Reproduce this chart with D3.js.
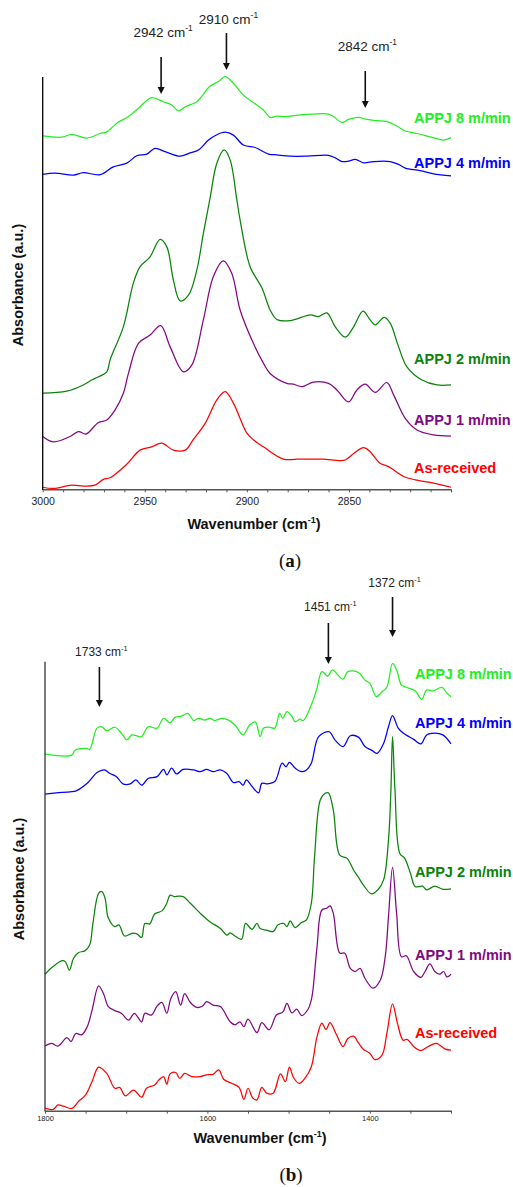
<!DOCTYPE html>
<html>
<head>
<meta charset="utf-8">
<script src="https://cdn.jsdelivr.net/npm/d3@7"></script>
<style>
  html, body { margin: 0; padding: 0; background: #fff; }
  svg { display: block; }
</style>
</head>
<body>
<svg id="chart" width="513" height="1187"></svg>
<script>
// ---------- C–H stretching region (panel a): [wavenumber cm-1, absorbance a.u.] ----------
const chAsReceived = [[3000,0.5],[2994.8,0.2],[2985.8,1.0],[2980.1,0.8],[2974.4,1.0],[2970.3,2.4],[2967,2.8],[2958.8,6.1],[2952.3,9.5],[2946.6,10.3],[2941.7,11.2],[2936,9.5],[2930.2,9.5],[2926.2,12.1],[2920.4,16.0],[2914.7,21.7],[2910.6,23.7],[2906.6,20.9],[2900,13.6],[2896.8,12.0],[2891.9,10.3],[2882.1,7.3],[2875.5,7.3],[2862.5,7.3],[2857.6,7.1],[2851.8,7.1],[2847.7,8.7],[2842.8,10.1],[2839.6,9.1],[2834.7,6.3],[2830.6,5.5],[2823.2,3.1],[2817.5,2.3],[2808.5,1.5],[2800,0.5]];
const chAppj1 = [[3000,12.8],[2994.8,11.5],[2986.6,12.8],[2982.5,14.0],[2978.8,13.4],[2972.7,16.2],[2968.6,16.8],[2964.6,19.2],[2960.5,23.3],[2958,28.1],[2953.1,35.4],[2947.4,37.4],[2942.2,39.7],[2937.6,34.6],[2931.1,28.5],[2927,30.1],[2921.3,41.1],[2916.4,51.6],[2911.5,55.4],[2907.4,52.4],[2903.3,43.5],[2896.8,35.4],[2891.9,30.6],[2888.6,28.1],[2880.4,25.7],[2877.2,25.5],[2873,24.9],[2867.4,26.0],[2860,25.7],[2855.9,24.1],[2850.2,21.2],[2846.1,24.1],[2842,25.5],[2837.1,23.5],[2831.4,25.9],[2828.1,22.9],[2822.4,17.2],[2816.7,14.4],[2808.5,13.2],[2800,12.9]];
const chAppj2 = [[3000,23.3],[2988.2,23.8],[2980.1,25.3],[2976,26.5],[2972.7,27.3],[2968.6,28.5],[2967,31.4],[2960.5,39.4],[2955.6,50.0],[2952.3,54.0],[2947.4,56.4],[2942.5,60.6],[2939.2,58.8],[2936,50.8],[2932.7,45.7],[2928.6,47.1],[2924.5,53.2],[2921.3,62.1],[2918,70.7],[2914.7,79.1],[2911.1,82.3],[2908.2,79.9],[2904.9,70.2],[2903.3,65.3],[2898.4,54.0],[2892.6,48.8],[2888.6,43.5],[2885.3,41.2],[2878.8,40.9],[2868.9,42.3],[2864.9,41.9],[2860.8,42.8],[2856.7,39.4],[2851.8,36.9],[2847.7,39.4],[2843.1,43.2],[2839.6,41.1],[2837.1,39.9],[2832.7,41.7],[2829.8,40.3],[2825.7,34.6],[2821.6,29.7],[2814.2,26.5],[2806.9,25.3],[2800,25.3]];
const chAppj4 = [[3000,76.4],[2994,76.7],[2985,76.2],[2980.1,76.8],[2971.9,76.3],[2965.4,78.2],[2958.8,79.1],[2953.9,80.9],[2949,81.3],[2945,82.7],[2940,81.9],[2932.7,80.8],[2927.8,81.6],[2923.7,82.3],[2918.8,84.7],[2914.7,86.0],[2910.6,86.6],[2906.6,85.9],[2901.7,83.5],[2895.9,82.9],[2893.5,82.3],[2889.4,81.3],[2885.3,81.1],[2878.8,80.8],[2870.6,80.8],[2860,81.0],[2856.7,80.4],[2853.4,79.5],[2850.2,79.6],[2846.9,80.0],[2842.8,79.2],[2837.9,79.5],[2829.8,79.5],[2825.7,78.8],[2822.4,77.9],[2815.1,77.3],[2808.5,76.5],[2800,76.0]];
const chAppj8 = [[3000,85.7],[2990.7,85.4],[2985.8,86.1],[2978.4,85.2],[2971.9,86.3],[2968.6,86.7],[2963.7,88.8],[2958,90.4],[2952.3,92.8],[2946.6,95.0],[2940.9,94.0],[2936.8,93.2],[2933.5,91.8],[2930.2,92.8],[2924.5,94.0],[2921.3,95.8],[2918,97.8],[2913.9,98.9],[2910.6,100.1],[2906.6,98.5],[2901.7,95.6],[2895.1,93.2],[2891.9,92.0],[2888.6,90.2],[2885.3,90.5],[2880.4,90.4],[2873.9,90.8],[2867.4,91.0],[2860,91.0],[2857.6,90.4],[2853.4,89.0],[2850.2,89.7],[2845.3,90.2],[2841.2,89.7],[2836.3,89.4],[2831.4,89.2],[2826.5,88.1],[2822.4,86.9],[2816.7,86.3],[2810.2,85.5],[2803.6,84.7],[2800,85.3]];

// ---------- fingerprint region (panel b) ----------
const fpAsReceived = [[1800,0.5],[1790,0.3],[1784,1.3],[1777,1.0],[1767,0.5],[1759,2.0],[1750,3.5],[1742,6.5],[1734,9.7],[1724,8.3],[1714,5.0],[1708,5.2],[1701,3.3],[1691,4.6],[1681,3.0],[1675,5.0],[1665,5.7],[1660,6.8],[1654,7.6],[1650,5.9],[1646,8.2],[1639,8.5],[1634,7.2],[1628,8.3],[1619,7.6],[1609,7.6],[1601,8.0],[1593,8.1],[1586,9.1],[1580,7.0],[1570,6.1],[1561,5.2],[1555,2.5],[1550,5.0],[1544,2.8],[1539,2.4],[1533,5.2],[1527,3.9],[1519,3.9],[1510,8.2],[1504,6.5],[1499,9.7],[1494,7.4],[1487,6.1],[1480,7.2],[1472,9.8],[1465,16.5],[1459,19.5],[1454,18.1],[1449,19.6],[1441,16.9],[1433,14.3],[1427,16.1],[1420,16.6],[1414,15.1],[1408,13.7],[1400,12.8],[1394,11.4],[1385,12.4],[1379,17.2],[1372,23.8],[1366,19.5],[1359,15.7],[1354,15.9],[1346,14.3],[1337,13.4],[1328,14.3],[1318,15.0],[1307,13.7],[1300,13.5]];
const fpAppj1 = [[1800,14.4],[1792,15.0],[1784,14.4],[1773,16.3],[1768,15.4],[1762,17.2],[1755,16.9],[1748,18.7],[1742,22.4],[1734,27.8],[1728,26.1],[1722,23.2],[1714,22.3],[1706,21.7],[1697,20.2],[1690,21.7],[1681,19.8],[1677,21.7],[1669,21.3],[1662,23.3],[1656,24.1],[1650,21.7],[1645,25.0],[1639,26.5],[1633,23.5],[1628,26.1],[1621,24.1],[1613,23.0],[1606,23.3],[1601,24.3],[1593,23.5],[1584,23.2],[1572,19.8],[1566,19.1],[1560,19.8],[1555,18.7],[1550,20.4],[1539,17.4],[1533,19.6],[1524,18.0],[1515,21.3],[1507,22.0],[1502,23.9],[1496,21.8],[1490,22.6],[1484,21.2],[1476,22.6],[1472,24.7],[1470,26.9],[1465,36.5],[1459,44.7],[1453,45.1],[1449,45.6],[1445,44.0],[1437,35.1],[1431,35.1],[1424,31.7],[1418,31.0],[1412,31.7],[1406,29.5],[1396,27.3],[1387,29.1],[1381,34.3],[1377,43.2],[1372,54.2],[1367,44.0],[1361,34.3],[1355,34.5],[1346,31.0],[1337,29.7],[1332,31.0],[1326,32.7],[1320,31.0],[1314,30.4],[1309,31.0],[1305,29.8],[1300,30.4]];
const fpAppj2 = [[1800,30.4],[1790,32.1],[1779,33.4],[1775,33.2],[1770,31.3],[1765,33.9],[1759,35.2],[1751,35.6],[1745,36.9],[1741,41.7],[1734,48.4],[1730,48.8],[1726,47.3],[1722,42.9],[1714,41.0],[1709,41.4],[1702,38.9],[1693,39.5],[1687,39.4],[1681,38.6],[1677,41.7],[1671,41.6],[1665,43.8],[1656,44.5],[1650,46.2],[1646,48.0],[1641,47.7],[1636,47.8],[1630,47.7],[1621,46.2],[1609,44.0],[1597,42.1],[1584,40.6],[1576,39.1],[1572,39.6],[1566,38.9],[1558,38.2],[1553,41.7],[1545,40.4],[1539,41.7],[1535,40.6],[1527,40.2],[1519,39.9],[1513,41.4],[1506,41.7],[1502,41.0],[1498,42.3],[1492,40.8],[1484,41.9],[1478,42.5],[1472,46.2],[1468,56.6],[1461,69.2],[1455,70.7],[1451,70.8],[1445,67.0],[1437,56.9],[1428,56.2],[1420,53.6],[1414,52.0],[1408,50.3],[1398,48.3],[1390,49.2],[1383,51.4],[1377,60.3],[1374,71.4],[1372,83.3],[1369,71.4],[1363,57.3],[1357,56.2],[1350,52.9],[1344,49.9],[1335,50.0],[1330,49.2],[1320,50.0],[1310,49.3],[1300,49.4]];
const fpAppj4 = [[1800,70.5],[1786,70.8],[1769,71.0],[1761,71.3],[1747,73.1],[1736,75.3],[1727,75.9],[1720,75.1],[1712,74.4],[1704,72.8],[1695,72.8],[1688,73.7],[1681,72.5],[1673,74.0],[1662,74.4],[1654,76.0],[1650,74.8],[1644,76.3],[1638,75.0],[1630,76.0],[1617,75.9],[1609,75.5],[1601,76.0],[1593,75.5],[1584,75.9],[1576,75.1],[1568,73.1],[1561,73.3],[1556,72.5],[1552,73.7],[1545,72.2],[1537,70.8],[1533,72.9],[1527,72.8],[1517,73.3],[1508,77.4],[1503,76.6],[1499,77.6],[1492,76.3],[1484,75.5],[1478,75.9],[1472,77.4],[1463,83.3],[1450,84.4],[1443,82.6],[1433,81.1],[1424,83.5],[1414,83.2],[1406,81.1],[1398,80.3],[1391,79.6],[1383,81.8],[1377,85.5],[1372,88.0],[1365,85.2],[1359,84.1],[1346,82.7],[1337,81.7],[1330,83.7],[1320,84.1],[1310,83.7],[1300,81.7]];
const fpAppj8 = [[1800,79.4],[1767,79.2],[1763,80.3],[1749,80.7],[1745,80.5],[1736,85.2],[1730,85.5],[1724,84.6],[1714,85.4],[1706,84.1],[1699,82.6],[1693,83.7],[1687,83.5],[1681,83.3],[1673,85.5],[1662,85.2],[1654,87.4],[1646,86.4],[1640,87.6],[1632,87.9],[1624,88.5],[1617,86.9],[1611,87.4],[1603,87.0],[1597,87.4],[1591,86.9],[1582,87.4],[1574,87.0],[1566,85.9],[1556,83.7],[1548,85.9],[1541,86.6],[1535,83.3],[1531,85.2],[1523,85.4],[1517,85.2],[1511,88.5],[1507,87.4],[1502,88.9],[1496,87.8],[1492,86.6],[1486,87.2],[1482,86.9],[1472,90.4],[1465,94.1],[1459,97.8],[1452,96.8],[1446,98.2],[1439,97.0],[1433,96.1],[1427,97.8],[1414,97.6],[1406,95.9],[1400,95.2],[1392,92.2],[1385,93.3],[1379,94.3],[1372,99.6],[1367,98.2],[1361,94.8],[1355,94.3],[1344,93.5],[1336,91.6],[1330,93.7],[1322,93.5],[1311,94.3],[1305,93.0],[1300,92.2]];

// ---------- series names, colours, annotated bands, axis ticks ----------
const seriesNames = ["APPJ 8 m/min", "APPJ 4 m/min", "APPJ 2 m/min", "APPJ 1 m/min", "As-received"];
const seriesColors = ["#22ee22", "#0000ff", "#0a830a", "#820882", "#ff0000"];
const bandsA = [2942, 2910, 2842];
const bandsB = [1733, 1451, 1372];
const ticksA = d3.range(2800, 3001, 10);
const ticksB = d3.range(1300, 1801, 50);
const tickLabelsA = [3000, 2950, 2900, 2850];
const tickLabelsB = [1800, 1600, 1400];

const SANS = "'Liberation Sans', Arial, Helvetica, sans-serif";
const SERIF = "'Liberation Serif', 'Times New Roman', serif";

const svg = d3.select("#chart");
svg.append("rect").attr("width", 513).attr("height", 1187).attr("fill", "#fff");

// text with a "cm-1" style superscript
function supText(g, x, y, pre, sup, post, fs, opts) {
  const t = g.append("text")
    .attr("x", x).attr("y", y)
    .attr("text-anchor", "middle")
    .attr("font-family", SANS)
    .attr("font-size", fs)
    .attr("font-weight", opts.bold ? "bold" : "normal")
    .attr("fill", opts.fill || "#222");
  t.append("tspan").text(pre);
  t.append("tspan").attr("dy", -fs * 0.42).attr("font-size", fs * 0.62).text(sup);
  if (post) t.append("tspan").attr("dy", fs * 0.42).text(post);
  return t;
}

function drawPanel(p) {
  const g = svg.append("g");
  const x = d3.scaleLinear().domain(p.xDomain).range([p.left, p.right]);
  const y = d3.scaleLinear().domain([0, 100]).range([p.bottom, p.top]);

  const line = d3.line()
    .x(d => x(d[0]))
    .y(d => y(d[1]))
    .curve(d3.curveCatmullRom.alpha(0.5));

  // spectra
  p.series.forEach((s, i) => {
    g.append("path")
      .datum(s)
      .attr("d", line)
      .attr("fill", "none")
      .attr("stroke", seriesColors[i])
      .attr("stroke-width", 1.25)
      .attr("stroke-linejoin", "round");
  });

  // x axis: minor ticks everywhere, labels only on selected values
  const axis = d3.axisBottom(x)
    .tickValues(p.ticks)
    .tickSizeInner(p.tickSize)
    .tickSizeOuter(0)
    .tickPadding(p.tickPad)
    .tickFormat(v => (p.tickLabels.includes(v) ? String(v) : ""));
  const axG = g.append("g")
    .attr("transform", `translate(0,${p.bottom})`)
    .call(axis)
    .attr("font-family", SANS)
    .attr("font-size", p.tickFont);
  axG.select(".domain").attr("stroke", "#555").attr("stroke-width", 1.6);
  axG.selectAll(".tick line").attr("stroke", "#555").attr("stroke-width", 1);
  axG.selectAll(".tick text").attr("fill", "#222");

  // y axis (no ticks)
  g.append("line")
    .attr("x1", p.left).attr("x2", p.left)
    .attr("y1", p.top).attr("y2", p.bottom + 0.8)
    .attr("stroke", p.yAxisColor).attr("stroke-width", 1.3);

  // axis titles
  supText(g, p.xTitleX, p.xTitleY, "Wavenumber (cm", "-1", ")", p.xTitleFont, { bold: true, fill: "#111" });
  g.append("text")
    .attr("transform", `translate(${p.yTitleX},${p.yTitleY}) rotate(-90)`)
    .attr("text-anchor", "middle")
    .attr("font-family", SANS)
    .attr("font-weight", "bold")
    .attr("font-size", p.yTitleFont)
    .attr("fill", "#111")
    .text("Absorbance (a.u.)");

  // series labels
  seriesNames.forEach((name, i) => {
    g.append("text")
      .attr("x", p.labelX)
      .attr("y", y(p.labelLevels[i]))
      .attr("dy", "0.36em")
      .attr("font-family", SANS)
      .attr("font-weight", "bold")
      .attr("font-size", 14.5)
      .attr("fill", seriesColors[i])
      .text(name);
  });

  // band arrows
  p.bands.forEach((b, i) => {
    const ax = x(b);
    const a = p.arrows[i];
    g.append("line")
      .attr("x1", ax).attr("x2", ax)
      .attr("y1", a.tail).attr("y2", a.tip - 6)
      .attr("stroke", "#111").attr("stroke-width", 1.6);
    g.append("path")
      .attr("d", `M${ax - 3.5},${a.tip - 7} L${ax + 3.5},${a.tip - 7} L${ax},${a.tip} Z`)
      .attr("fill", "#111");
    supText(g, ax + 2, a.text, `${b} cm`, "-1", null, p.bandFont, { bold: false, fill: "#222" });
  });

  // panel caption
  const cap = g.append("text")
    .attr("x", p.capX).attr("y", p.capY)
    .attr("text-anchor", "middle")
    .attr("font-family", SERIF)
    .attr("font-size", 19)
    .attr("fill", "#111");
  cap.append("tspan").text("(");
  cap.append("tspan").attr("font-weight", "bold").text(p.caption);
  cap.append("tspan").text(")");
}

drawPanel({
  xDomain: [3000, 2800], left: 42.7, right: 451, top: 77, bottom: 489.3,
  series: [chAppj8, chAppj4, chAppj2, chAppj1, chAsReceived],
  ticks: ticksA, tickLabels: tickLabelsA, tickSize: 3, tickPad: 5.5, tickFont: 10.5,
  yAxisColor: "#000",
  xTitleX: 254, xTitleY: 529, xTitleFont: 14.5,
  yTitleX: 23, yTitleY: 285, yTitleFont: 14.5,
  labelX: 414, labelLevels: [90.1, 79.1, 31.6, 16.8, 5.2],
  bands: bandsA, bandFont: 13.5,
  arrows: [{ tail: 57, tip: 94, text: 37 }, { tail: 33, tip: 70, text: 24 }, { tail: 71, tip: 108, text: 51 }],
  capX: 290, capY: 567, caption: "a"
});

drawPanel({
  xDomain: [1800, 1300], left: 45, right: 451, top: 661.7, bottom: 1110.7,
  series: [fpAppj8, fpAppj4, fpAppj2, fpAppj1, fpAsReceived],
  ticks: ticksB, tickLabels: tickLabelsB, tickSize: 3, tickPad: 2, tickFont: 7.5,
  yAxisColor: "#333",
  xTitleX: 260, xTitleY: 1143, xTitleFont: 14.5,
  yTitleX: 24, yTitleY: 879, yTitleFont: 14.5,
  labelX: 415, labelLevels: [97.4, 86.3, 53.2, 34.7, 17.3],
  bands: bandsB, bandFont: 12,
  arrows: [{ tail: 667, tip: 707, text: 656 }, { tail: 623, tip: 664, text: 611 }, { tail: 597, tip: 637, text: 587 }],
  capX: 291, capY: 1181, caption: "b"
});
</script>
</body>
</html>
